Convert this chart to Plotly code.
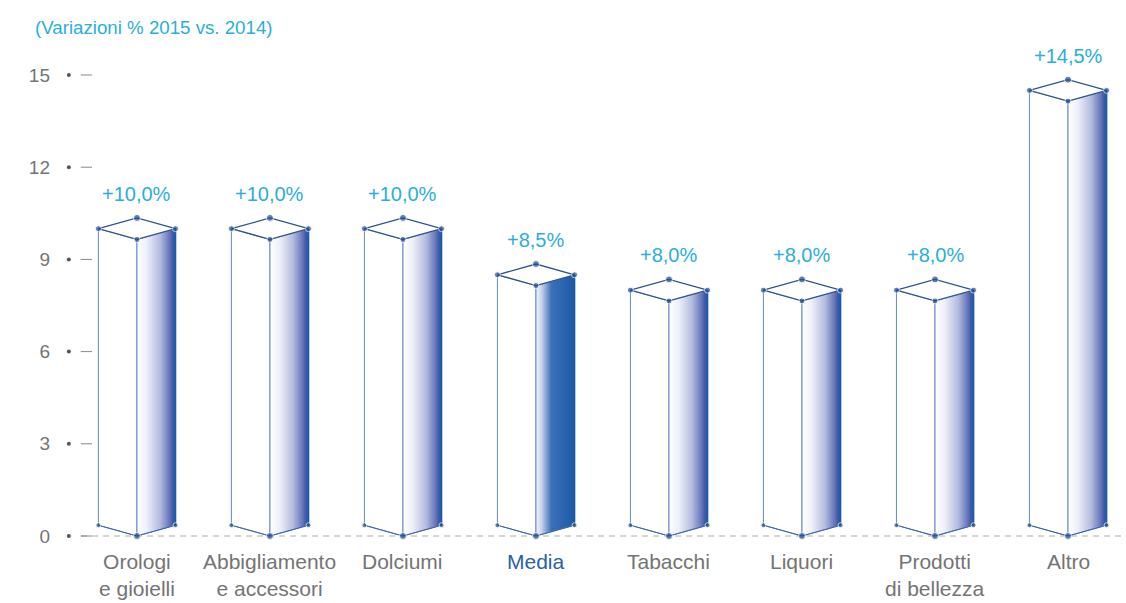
import plotly.graph_objects as go

# Variazioni % 2015 vs. 2014 by category
categories = ["Orologi<br>e gioielli", "Abbigliamento<br>e accessori", "Dolciumi", "Media",
              "Tabacchi", "Liquori", "Prodotti<br>di bellezza", "Altro"]
values = [10.0, 10.0, 10.0, 8.5, 8.0, 8.0, 8.0, 14.5]
highlight = "Media"
y_ticks = [0, 3, 6, 9, 12, 15]

FONT = "Liberation Sans, Arial, sans-serif"
CYAN = "#2aaedb"
GREY = "#747474"
NAVY = "#1f4c92"
EDGE = "#6288cc"

W = 0.29   # half width of a box (x units)
D = 0.35   # vertical offset of the isometric depth (y units)

side_scale = [[0, "#ffffff"], [0.25, "#eef0f8"], [0.6, "#b3bbdf"], [0.85, "#6674b8"],
              [0.93, "#3b5aa8"], [1, "#1a5fb0"]]
side_scale_hi = [[0, "#f4f6fb"], [0.15, "#c5d0ea"], [0.4, "#3c70b8"], [1, "#1b5aa6"]]

fig = go.Figure()

for i, (cat, v) in enumerate(zip(categories, values)):
    c = i
    is_hi = cat == highlight
    # front face
    fig.add_trace(go.Scatter(
        x=[c - W, c, c, c - W, c - W], y=[D, 0, v - D, v, D],
        mode="lines", fill="toself", fillcolor="#ffffff",
        line=dict(color=EDGE, width=1), hoverinfo="skip", showlegend=False))
    # right face with gradient
    fig.add_trace(go.Scatter(
        x=[c, c + W, c + W, c, c], y=[0, D, v, v - D, 0],
        mode="lines", fill="toself",
        fillgradient=dict(type="horizontal", colorscale=side_scale_hi if is_hi else side_scale),
        line=dict(color=EDGE, width=1), hoverinfo="skip", showlegend=False))
    # right outer edge
    fig.add_trace(go.Scatter(
        x=[c + W, c + W], y=[D, v], mode="lines",
        line=dict(color="#1a5aa8", width=1.5), hoverinfo="skip", showlegend=False))
    # bottom edges
    fig.add_trace(go.Scatter(
        x=[c - W, c, c + W], y=[D, 0, D], mode="lines",
        line=dict(color="#3d62aa", width=1), hoverinfo="skip", showlegend=False))
    # top face
    fig.add_trace(go.Scatter(
        x=[c - W, c, c + W, c, c - W], y=[v, v - D, v, v + D, v],
        mode="lines", fill="toself", fillcolor="#ffffff",
        line=dict(color="#30538f", width=1.3), hoverinfo="skip", showlegend=False))
    # vertex dots
    fig.add_trace(go.Scatter(
        x=[c - W, c, c + W, c, c - W, c, c + W],
        y=[v, v - D, v, v + D, D, 0, D],
        mode="markers", marker=dict(color=NAVY, size=[6, 6, 6, 7, 5, 7, 5]),
        hoverinfo="skip", showlegend=False))
    # value label
    label = ("+%.1f%%" % v).replace(".", ",")
    fig.add_annotation(x=c, y=v + D, text=label, showarrow=False, yshift=24,
                       font=dict(family=FONT, size=20, color=CYAN))
    # category label
    fig.add_annotation(x=c, y=0, text=cat, showarrow=False, yanchor="top", yshift=-12,
                       font=dict(family=FONT, size=21, color="#2a62a8" if is_hi else GREY))

# y-axis decorations: dot and short dash at each tick
fig.add_trace(go.Scatter(
    x=[-0.512] * len(y_ticks), y=y_ticks, mode="markers",
    marker=dict(color="#555555", size=4), hoverinfo="skip", showlegend=False))
fig.add_trace(go.Scatter(
    x=[-0.38] * len(y_ticks), y=y_ticks, mode="markers",
    marker=dict(symbol="line-ew", size=8, line=dict(color="#888888", width=1)),
    hoverinfo="skip", showlegend=False))

# dashed baseline
fig.add_shape(type="line", xref="x", yref="y", x0=-0.42, x1=7.44, y0=0, y1=0,
              line=dict(color="#c9c9c9", width=1.5, dash="6px,5px"), layer="below")

fig.update_layout(
    width=1126, height=603,
    margin=dict(l=65, r=0, t=50, b=58),
    paper_bgcolor="#ffffff", plot_bgcolor="#ffffff",
    xaxis=dict(range=[-0.541, 7.436], showgrid=False, zeroline=False,
               showticklabels=False, ticks="", fixedrange=True),
    yaxis=dict(range=[-0.293, 15.814], showgrid=False, zeroline=False,
               tickvals=y_ticks, ticktext=[str(t) for t in y_ticks], ticks="",
               ticklabelstandoff=14,
               tickfont=dict(family=FONT, size=19, color=GREY), fixedrange=True),
    annotations=list(fig.layout.annotations) + [
        dict(xref="paper", yref="paper", x=-0.03, y=1.0, xanchor="left", yanchor="middle",
             yshift=23, text="(Variazioni % 2015 vs. 2014)", showarrow=False,
             font=dict(family=FONT, size=18.7, color=CYAN))
    ],
)

fig.write_html("out.html")
